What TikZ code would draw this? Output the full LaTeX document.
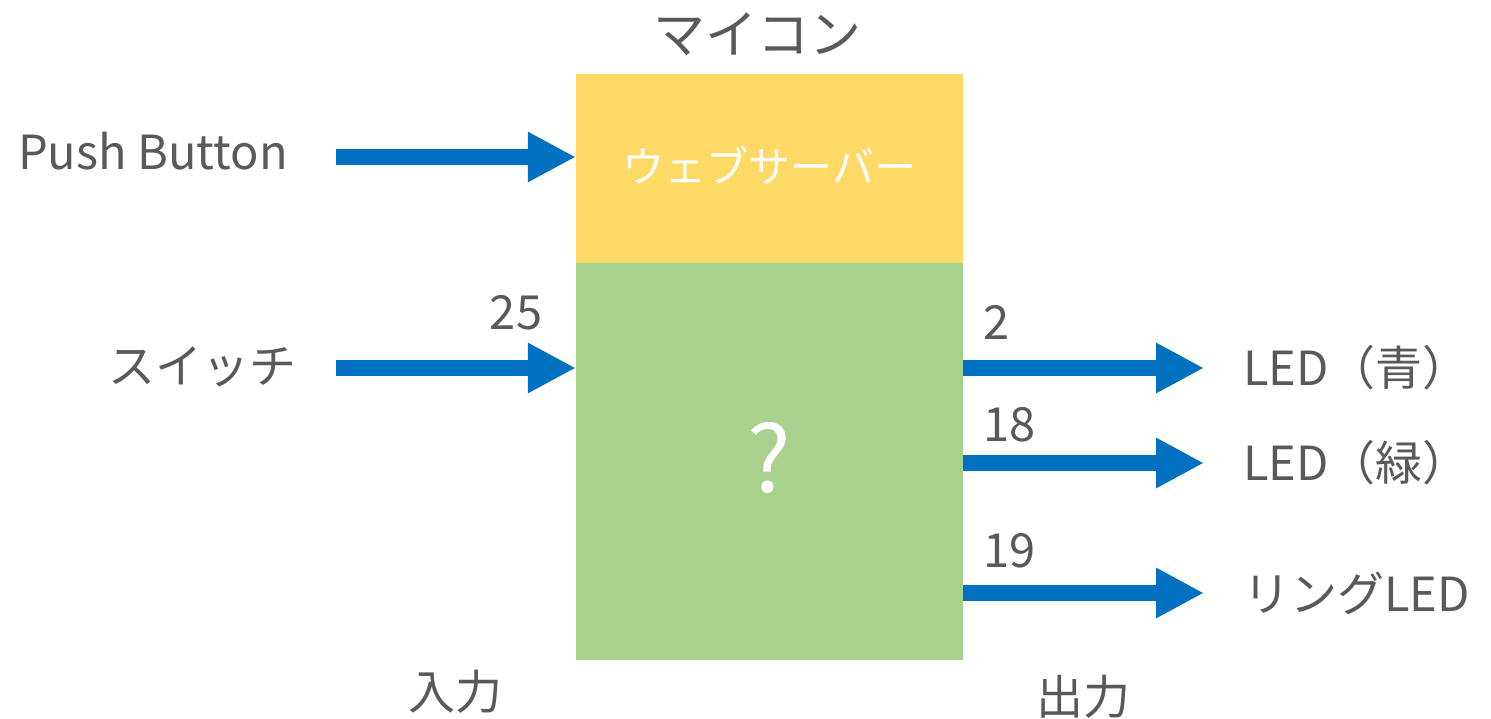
\documentclass[tikz,border=0pt]{standalone}
\usepackage{fontspec}
\setmainfont{Noto Sans CJK JP}
\usetikzlibrary{arrows.meta}
\definecolor{myyellow}{HTML}{FFD966}
\definecolor{mygreen}{HTML}{A9D18E}
\definecolor{myblue}{HTML}{0070C0}
\definecolor{mygray}{HTML}{595959}
\begin{document}
\begin{tikzpicture}[x=1pt,y=-1pt,
  lbl/.style={text=mygray,font=\fontsize{47}{50}\selectfont,inner sep=0pt},
  num/.style={text=mygray,font=\fontsize{47}{50}\selectfont,inner sep=0pt},
  bigarrow/.style={draw=myblue,line width=16pt,-{Triangle[length=48pt,width=47pt]}},
  block/.style={draw=none,inner sep=0pt,minimum width=387pt}]
\useasboundingbox (0,0) rectangle (1491,718);
\node[block,fill=myyellow,minimum height=189pt] (web) at (769.5,168.5) {};
\node[block,fill=mygreen,minimum height=397pt] (mcu) at (769.5,461.5) {};
\node[text=white,font=\fontsize{42}{46}\selectfont,inner sep=0pt] (webt) at (769.5,165) {ウェブサーバー};
\node[text=white,font=\fontsize{92}{100}\selectfont,inner sep=0pt] (q) at (769.5,458) {?};
\node[lbl,font=\fontsize{52}{56}\selectfont] (title) at (757.5,34) {マイコン};
\node[lbl,anchor=west] (pb) at (18,151) {Push Button};
\node[lbl,anchor=east] (sw) at (297,367) {スイッチ};
\node[num] (n25) at (516,313) {25};
\node[num,anchor=west] (n2) at (983,322) {2};
\node[num,anchor=west] (n18) at (983,425) {18};
\node[num,anchor=west] (n19) at (983,551) {19};
\node[lbl,anchor=west] (blue) at (1243,368) {LED（青）};
\node[lbl,anchor=west] (green) at (1243,463) {LED（緑）};
\node[lbl,anchor=west] (ring) at (1243,593) {リングLED};
\node[lbl] (in) at (455,692) {入力};
\node[lbl] (out) at (1083,697) {出力};
\coordinate (a1s) at (336,157);
\coordinate (a2s) at (336,368);
\coordinate (b1e) at (1204,368);
\coordinate (b2e) at (1204,463);
\coordinate (b3e) at (1204,593);
\draw[bigarrow] (a1s) -- (web.west|-a1s);
\draw[bigarrow] (a2s) -- (mcu.west|-a2s);
\draw[bigarrow] (mcu.east|-b1e) -- (b1e);
\draw[bigarrow] (mcu.east|-b2e) -- (b2e);
\draw[bigarrow] (mcu.east|-b3e) -- (b3e);
\end{tikzpicture}
\end{document}
